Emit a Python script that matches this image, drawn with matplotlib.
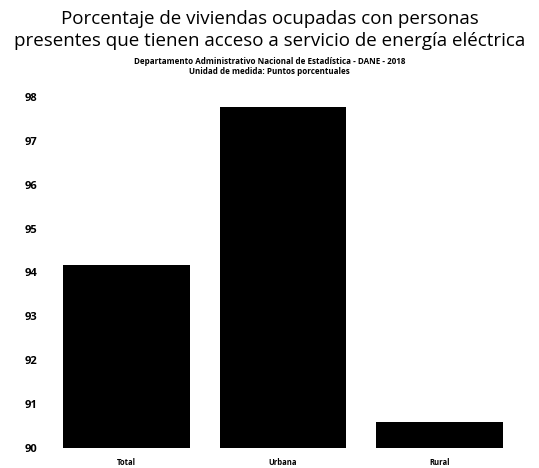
import matplotlib.pyplot as plt

categorias = ["Total", "Urbana", "Rural"]
valores = [94.17, 97.77, 90.59]
ticks_y = [90, 91, 92, 93, 94, 95, 96, 97, 98]

plt.rcParams['font.family'] = ['Open Sans', 'DejaVu Sans']

fig = plt.figure(figsize=(5.39, 4.68), dpi=100)
ax = fig.add_axes([0.09, 0.043, 0.87, 0.75])

x = range(len(categorias))
ax.bar(x, valores, width=0.81, color='black', bottom=0)
ax.set_ylim(90, 98)
ax.set_xlim(-0.5, 2.5)
ax.set_yticks(ticks_y)
ax.set_yticklabels([str(t) for t in ticks_y], fontsize=8, fontweight='bold')
ax.set_xticks(list(x))
ax.set_xticklabels(categorias, fontsize=5.5, fontweight='bold')
ax.tick_params(length=0, pad=8)
ax.tick_params(axis='x', pad=7)
for s in ax.spines.values():
    s.set_visible(False)

fig.text(0.5, 0.960, "Porcentaje de viviendas ocupadas con personas",
         ha='center', va='center', fontsize=13.5)
fig.text(0.5, 0.912, "presentes que tienen acceso a servicio de energía eléctrica",
         ha='center', va='center', fontsize=13.5)
fig.text(0.5, 0.868, "Departamento Administrativo Nacional de Estadística - DANE - 2018",
         ha='center', va='center', fontsize=5.8, fontweight='bold')
fig.text(0.5, 0.847, "Unidad de medida: Puntos porcentuales",
         ha='center', va='center', fontsize=5.8, fontweight='bold')

fig.savefig("out.png", dpi=100)
